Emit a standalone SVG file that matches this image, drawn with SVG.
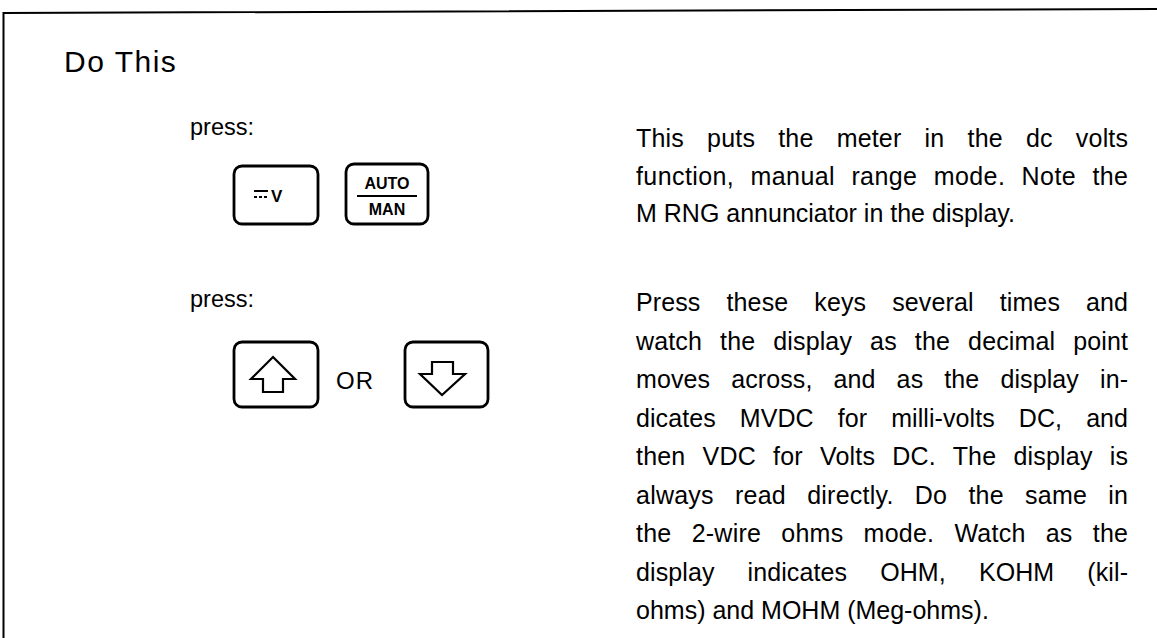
<svg xmlns="http://www.w3.org/2000/svg" width="1157" height="638" viewBox="0 0 1157 638">
<style>
.t{font-family:"Liberation Sans",Arial,sans-serif;fill:#000;font-size:25px}
.b{font-family:"Liberation Sans",Arial,sans-serif;fill:#000;font-weight:bold}
.key{fill:none;stroke:#000;stroke-width:2.8}
.arr{fill:none;stroke:#000;stroke-width:2.2;stroke-linejoin:miter}
</style>
<rect width="1157" height="638" fill="#fff"/>
<g id="frame">
<path d="M1157 9 L3.5 13 L3.5 638" fill="none" stroke="#000" stroke-width="2"/>
</g>
<text class="t" x="64" y="72" style="font-size:30px" letter-spacing="1.5">Do This</text>
<g id="step1">
<text class="t" x="190" y="135" style="font-size:23.5px">press:</text>
<g id="key-dcv">
<rect class="key" x="234" y="166" width="84" height="58" rx="8"/>
<line x1="254" y1="191" x2="268" y2="191" stroke="#000" stroke-width="2"/>
<line x1="254" y1="197" x2="268" y2="197" stroke="#000" stroke-width="2" stroke-dasharray="3,2"/>
<text class="b" x="271" y="202" font-size="17">V</text>
</g>
<g id="key-automan">
<rect class="key" x="346" y="164" width="82" height="60" rx="8" stroke-width="3.2"/>
<text class="b" x="387" y="189" font-size="16" text-anchor="middle">AUTO</text>
<line x1="357" y1="196" x2="417" y2="196" stroke="#000" stroke-width="2"/>
<text class="b" x="387" y="215" font-size="16" text-anchor="middle">MAN</text>
</g>
</g>
<g id="step2">
<text class="t" x="190" y="307" style="font-size:23.5px">press:</text>
<g id="key-up">
<rect class="key" x="234" y="342" width="84" height="65" rx="8"/>
<polygon class="arr" points="273,357 295,379 283,379 283,392 263,392 263,379 251,379"/>
</g>
<text class="t" x="336" y="389" style="font-size:24px" letter-spacing="1">OR</text>
<g id="key-down">
<rect class="key" x="405" y="342" width="83" height="65" rx="8"/>
<polygon class="arr" points="432,362 453,362 453,374 465,374 442,395 420,374 432,374"/>
</g>
</g>
<g id="desc1">
<text class="t" x="636" y="147" word-spacing="16" textLength="492" lengthAdjust="spacing">This puts the meter in the dc volts</text>
<text class="t" x="636" y="185" word-spacing="9" textLength="492" lengthAdjust="spacing">function, manual range mode. Note the</text>
<text class="t" x="636" y="222">M RNG annunciator in the display.</text>
</g>
<g id="desc2">
<text class="t" x="636" y="311" word-spacing="19" textLength="492" lengthAdjust="spacing">Press these keys several times and</text>
<text class="t" x="636" y="349.5" word-spacing="11" textLength="492" lengthAdjust="spacing">watch the display as the decimal point</text>
<text class="t" x="636" y="388" word-spacing="14" textLength="492" lengthAdjust="spacing">moves across, and as the display in-</text>
<text class="t" x="636" y="426.5" word-spacing="17" textLength="492" lengthAdjust="spacing">dicates MVDC for milli-volts DC, and</text>
<text class="t" x="636" y="465" word-spacing="10" textLength="492" lengthAdjust="spacing">then VDC for Volts DC. The display is</text>
<text class="t" x="636" y="503.5" word-spacing="14" textLength="492" lengthAdjust="spacing">always read directly. Do the same in</text>
<text class="t" x="636" y="542" word-spacing="13" textLength="492" lengthAdjust="spacing">the 2-wire ohms mode. Watch as the</text>
<text class="t" x="636" y="580.5" word-spacing="26" textLength="492" lengthAdjust="spacing">display indicates OHM, KOHM (kil-</text>
<text class="t" x="636" y="619">ohms) and MOHM (Meg-ohms).</text>
</g>
</svg>
